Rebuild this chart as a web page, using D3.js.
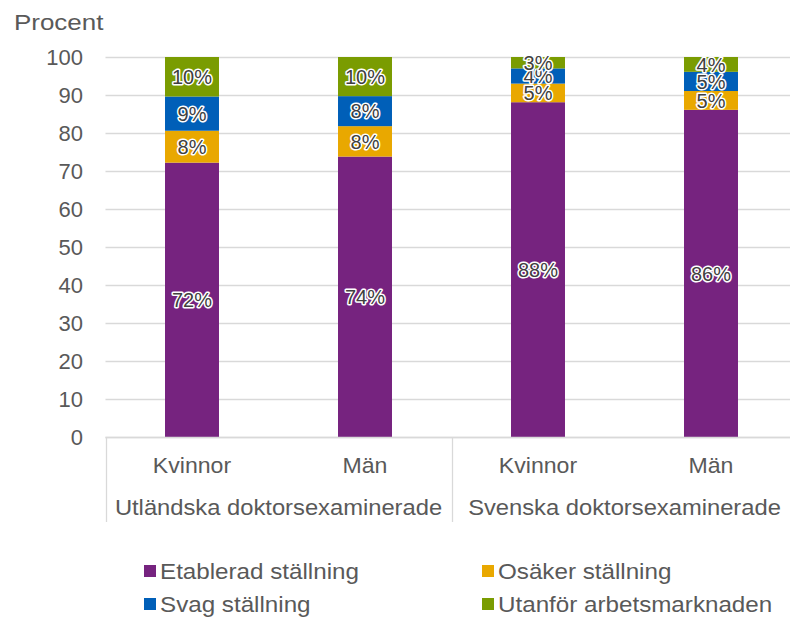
<!DOCTYPE html>
<html lang="sv">
<head>
  <meta charset="utf-8">
  <title>Ställning på arbetsmarknaden</title>
  <script src="https://cdn.jsdelivr.net/npm/d3@7/dist/d3.min.js"></script>
  <style>
    body { margin: 0; background: #fff; }
    text { font-family: "Liberation Sans", Arial, sans-serif; fill: #595959; }
    .grid line { stroke: #d9d9d9; stroke-width: 1.3; }
    .sep { stroke: #d9d9d9; stroke-width: 1.3; }
    .lbl { fill: #404040; stroke: #fff; stroke-width: 3; stroke-linejoin: round; paint-order: stroke; }
  </style>
</head>
<body>
  <script>
    // data
    var categories = ["Kvinnor", "Män", "Kvinnor", "Män"];
    var groups = ["Utländska doktorsexaminerade", "Svenska doktorsexaminerade"];
    var seriesNames = ["Etablerad ställning", "Osäker ställning", "Svag ställning", "Utanför arbetsmarknaden"];
    var etablerad = [72.2, 73.8, 88.1, 86.1];
    var osaker = [8.4, 8.0, 4.9, 4.95];
    var svag = [9.0, 7.9, 4.0, 5.05];
    var utanfor = [10.4, 10.3, 3.0, 3.9];
    var yTicks = [0, 10, 20, 30, 40, 50, 60, 70, 80, 90, 100];
    var colors = ["#76237f", "#e9a800", "#005fb8", "#7a9c01"];

    var W = 790, H = 617;
    var plot = { left: 105.5, right: 797.5, top: 57, bottom: 437 };

    var svg = d3.select("body").append("svg")
      .attr("width", W)
      .attr("height", H);

    // text in the original is a bit wider than Arial, so stretch it sideways
    function place(sel, fx, fy, sx) {
      sel.attr("transform", function(d, i) {
        return "translate(" + fx(d, i) + "," + fy(d, i) + ") scale(" + sx + ",1)";
      });
    }

    var rows = categories.map(function(c, i) {
      return {
        i: i,
        "Etablerad ställning": etablerad[i],
        "Osäker ställning": osaker[i],
        "Svag ställning": svag[i],
        "Utanför arbetsmarknaden": utanfor[i]
      };
    });

    var x = d3.scaleBand()
      .domain(d3.range(categories.length))
      .range([plot.left, plot.right])
      .paddingInner(0.688)
      .paddingOuter(0.344);

    var y = d3.scaleLinear()
      .domain([0, 100])
      .range([plot.bottom, plot.top]);

    var z = d3.scaleOrdinal()
      .domain(seriesNames)
      .range(colors);

    // gridlines
    svg.append("g")
      .attr("class", "grid")
      .selectAll("line")
      .data(yTicks)
      .enter().append("line")
      .attr("x1", plot.left)
      .attr("x2", plot.right)
      .attr("y1", function(d) { return Math.round(y(d)) + 0.5; })
      .attr("y2", function(d) { return Math.round(y(d)) + 0.5; });

    // y axis labels
    var yAxis = svg.append("g")
      .attr("transform", "translate(83,0)")
      .call(d3.axisLeft(y).tickValues(yTicks).tickSize(0).tickPadding(0));
    yAxis.select(".domain").remove();
    yAxis.selectAll("text")
      .attr("font-size", 22)
      .attr("fill", "#595959")
      .style("font-family", "'Liberation Sans', Arial, sans-serif");

    svg.append("text")
      .attr("font-size", 22)
      .attr("transform", "translate(14,30) scale(1.18,1)")
      .text("Procent");

    // bars
    var stack = d3.stack().keys(seriesNames);
    var series = svg.append("g")
      .selectAll("g")
      .data(stack(rows))
      .enter().append("g")
      .attr("fill", function(d) { return z(d.key); });

    series.selectAll("rect")
      .data(function(d) { return d; })
      .enter().append("rect")
      .attr("x", function(d) { return x(d.data.i); })
      .attr("width", x.bandwidth())
      .attr("y", function(d) { return y(d[1]); })
      .attr("height", function(d) { return y(d[0]) - y(d[1]); });

    series.selectAll("text")
      .data(function(d) { return d; })
      .enter().append("text")
      .attr("class", "lbl")
      .attr("x", function(d) { return x(d.data.i) + x.bandwidth() / 2; })
      .attr("y", function(d) { return (y(d[0]) + y(d[1])) / 2; })
      .attr("dy", "0.36em")
      .attr("text-anchor", "middle")
      .attr("font-size", 20)
      .text(function(d) { return Math.round(d[1] - d[0]) + "%"; });

    // category axis with group separators
    var sepBottom = 522;
    svg.append("line")
      .attr("class", "sep")
      .attr("x1", plot.left).attr("x2", plot.right)
      .attr("y1", plot.bottom + 0.5).attr("y2", plot.bottom + 0.5);

    var groupEdges = [plot.left, (x(1) + x(2) + x.bandwidth()) / 2, plot.right];
    svg.append("g")
      .selectAll("line")
      .data(groupEdges)
      .enter().append("line")
      .attr("class", "sep")
      .attr("x1", function(d) { return Math.round(d) + 0.5; })
      .attr("x2", function(d) { return Math.round(d) + 0.5; })
      .attr("y1", plot.bottom)
      .attr("y2", sepBottom);

    var catText = svg.append("g")
      .selectAll("text")
      .data(categories)
      .enter().append("text")
      .attr("text-anchor", "middle")
      .attr("font-size", 22)
      .text(function(d) { return d; });
    place(catText, function(d, i) { return x(i) + x.bandwidth() / 2; }, function() { return 473; }, 1.05);

    var groupText = svg.append("g")
      .selectAll("text")
      .data(groups)
      .enter().append("text")
      .attr("text-anchor", "middle")
      .attr("font-size", 22)
      .text(function(d) { return d; });
    place(groupText, function(d, i) { return (groupEdges[i] + groupEdges[i + 1]) / 2; }, function() { return 515; }, 1.08);

    // legend
    var legendPos = [[144, 571], [482, 571], [144, 604], [482, 604]];
    var legend = svg.append("g")
      .selectAll("g")
      .data(seriesNames)
      .enter().append("g")
      .attr("transform", function(d, i) {
        return "translate(" + legendPos[i][0] + "," + legendPos[i][1] + ")";
      });

    legend.append("rect")
      .attr("y", -6)
      .attr("width", 12)
      .attr("height", 12)
      .attr("fill", z);

    legend.append("text")
      .attr("dy", "0.36em")
      .attr("font-size", 22)
      .attr("transform", "translate(16,0) scale(1.1,1)")
      .text(function(d) { return d; });
  </script>
</body>
</html>
